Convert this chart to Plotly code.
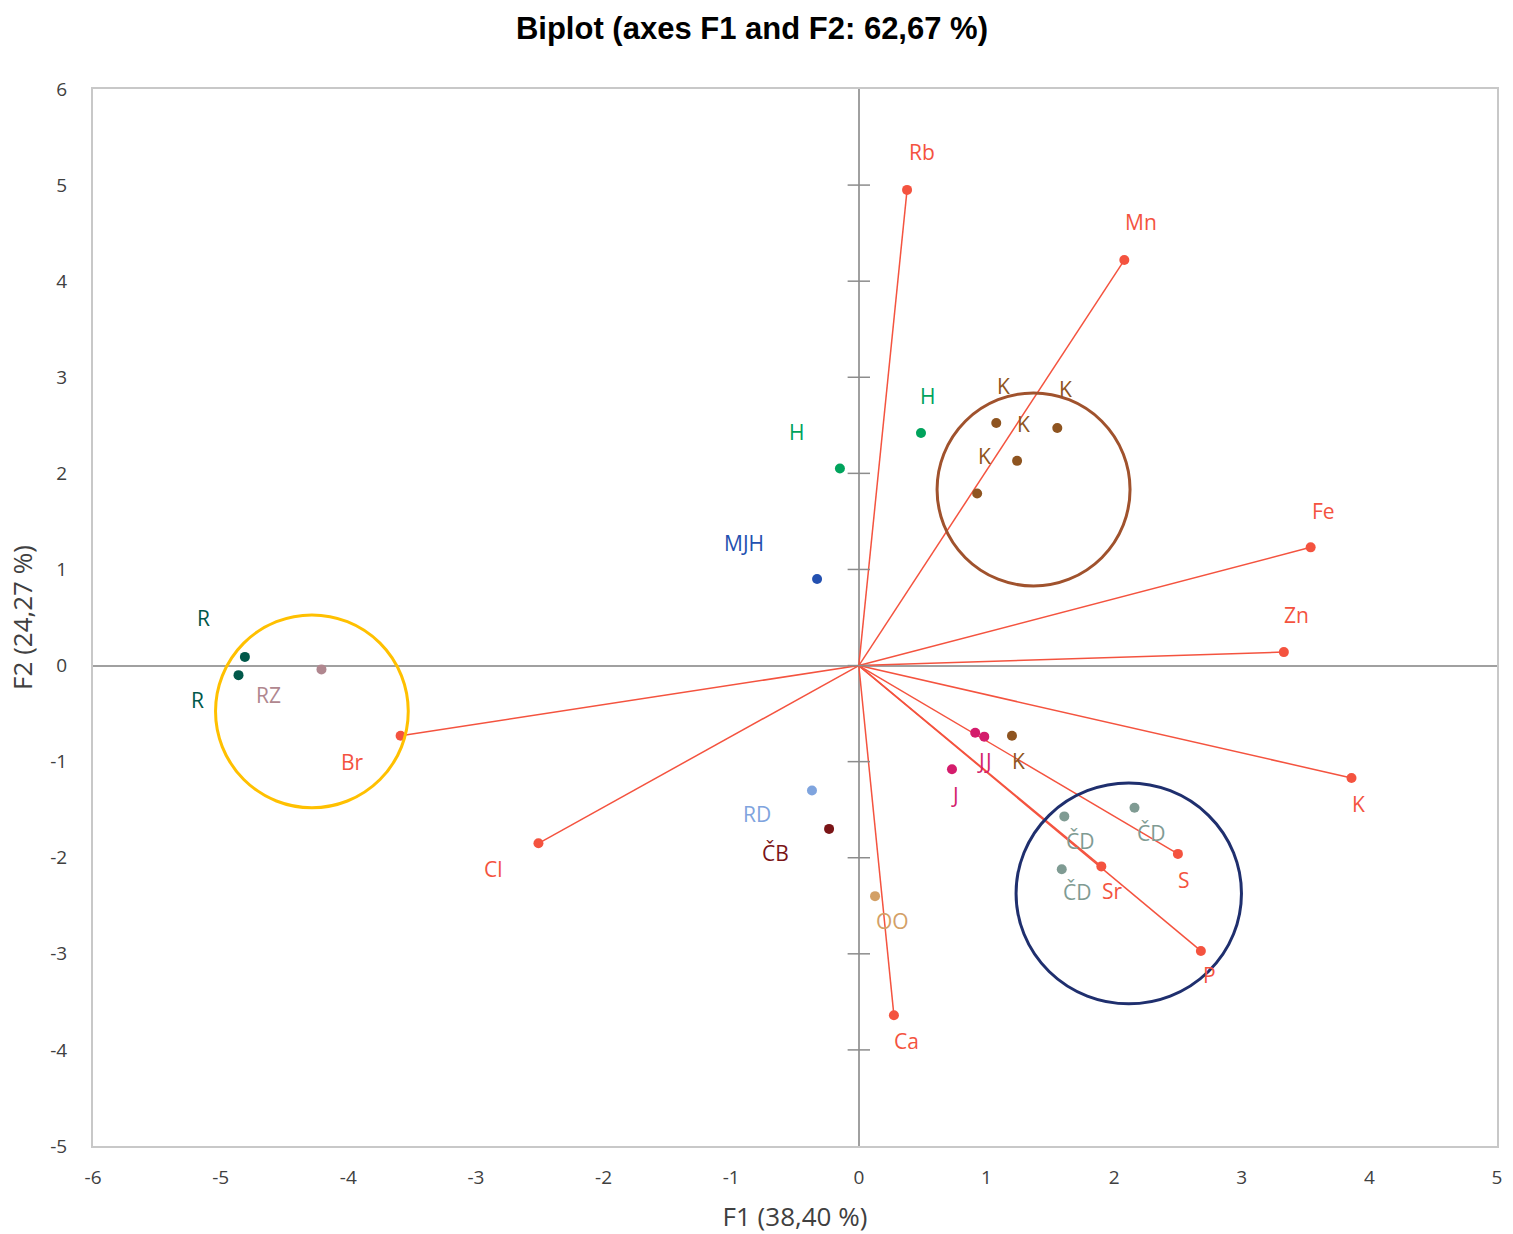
import plotly.graph_objects as go

# ---------------- data ----------------
var_names = ["Rb", "Mn", "Fe", "Zn", "K", "S", "Sr", "P", "Ca", "Cl", "Br"]
var_f1 = [0.378, 2.08, 3.54, 3.33, 3.86, 2.50, 1.90, 2.68, 0.275, -2.51, -3.59]
var_f2 = [4.95, 4.22, 1.23, 0.14, -1.17, -1.96, -2.09, -2.97, -3.64, -1.85, -0.73]

obs_names = ["H", "H", "MJH", "K", "K", "K", "K", "K", "J", "J", "J",
             "RD", "ČB", "OO", "ČD", "ČD", "ČD", "R", "R", "RZ"]
obs_f1 = [-0.148, 0.487, -0.327, 1.077, 1.555, 1.24, 0.927, 1.20, 0.912, 0.983, 0.73,
          -0.367, -0.233, 0.127, 1.61, 2.16, 1.59, -4.81, -4.86, -4.21]
obs_f2 = [2.05, 2.42, 0.90, 2.524, 2.472, 2.13, 1.79, -0.73, -0.70, -0.74, -1.08,
          -1.30, -1.70, -2.40, -1.57, -1.48, -2.12, 0.09, -0.10, -0.04]

# group ellipses (F1 range, F2 range)
circle_x0 = [-5.04, 0.613, 1.232]
circle_x1 = [-3.53, 2.125, 2.998]
circle_y0 = [-1.48, 0.828, -3.52]
circle_y1 = [0.527, 2.837, -1.222]

x_ticks = list(range(-6, 6))
y_ticks = list(range(-5, 7))
x_ticktext = [str(v) for v in x_ticks]
y_ticktext = [str(v) for v in y_ticks]

# ---------------- styles ----------------
VAR_COLOR = "#F4533F"
obs_colors = {
    "H": "#00A35C", "MJH": "#2350B0", "K": "#8E5420", "J": "#D41C6C",
    "RD": "#7FA4DE", "ČB": "#7A1416", "OO": "#D3A066", "ČD": "#7F9B93",
    "R": "#00584A", "RZ": "#B0878F",
}
circle_colors = ["#FFC000", "#A0522D", "#1F2F6E"]

# label offsets in px (dx, dy; dy positive = up)
var_offsets = [(15, 38), (17, 38), (13, 36), (13, 37), (7, -26), (6, -26), (11, -25),
               (9, -24), (13, -26), (-45, -26), (-48, -26)]
obs_offsets = [(-43, 37), (7, 37), (-73, 36), (7, 37), (8, 39), (6, 37), (7, 38), (7, -25),
               (6, -28), (4, -24), (3, -26), (-55, -24), (-54, -24), (17, -25),
               (16, -25), (16, -25), (15, -23), (-41, 39), (-41, -25), (-53, -26)]

LABEL_FONT = "Open Sans"
LABEL_SIZE = 21

fig = go.Figure()

# vectors
for name, x, y in zip(var_names, var_f1, var_f2):
    fig.add_trace(go.Scatter(x=[0, x], y=[0, y], mode="lines",
                             line=dict(color=VAR_COLOR, width=1.5),
                             hoverinfo="skip", showlegend=False))
fig.add_trace(go.Scatter(x=var_f1, y=var_f2, mode="markers", text=var_names,
                         marker=dict(color=VAR_COLOR, size=10),
                         showlegend=False))

# y zero-line tick marks
fig.add_trace(go.Scatter(x=[0] * len(y_ticks[1:-1]), y=y_ticks[1:-1], mode="markers",
                         marker=dict(symbol="line-ew", size=16,
                                     line=dict(color="#8C8C8C", width=1.5)),
                         hoverinfo="skip", showlegend=False))

# observations
fig.add_trace(go.Scatter(x=obs_f1, y=obs_f2, mode="markers", text=obs_names,
                         marker=dict(color=[obs_colors[n] for n in obs_names], size=10),
                         showlegend=False))

annotations = []
for name, x, y, (dx, dy) in zip(var_names, var_f1, var_f2, var_offsets):
    annotations.append(dict(x=x, y=y, text=name, showarrow=False, xshift=dx, yshift=dy,
                            font=dict(family=LABEL_FONT, size=LABEL_SIZE, color=VAR_COLOR)))
for name, x, y, (dx, dy) in zip(obs_names, obs_f1, obs_f2, obs_offsets):
    annotations.append(dict(x=x, y=y, text=name, showarrow=False, xshift=dx, yshift=dy,
                            font=dict(family=LABEL_FONT, size=LABEL_SIZE,
                                      color=obs_colors[name])))

shapes = []
for x0, x1, y0, y1, c in zip(circle_x0, circle_x1, circle_y0, circle_y1, circle_colors):
    shapes.append(dict(type="circle", xref="x", yref="y", x0=x0, x1=x1, y0=y0, y1=y1,
                       line=dict(color=c, width=3), layer="above"))

fig.update_layout(
    width=1513, height=1234,
    margin=dict(l=93, r=16, t=89, b=88),
    paper_bgcolor="white", plot_bgcolor="white",
    title=dict(text="<b>Biplot (axes F1 and F2: 62,67 %)</b>", x=0.497, xanchor="center",
               y=0.977, yanchor="middle",
               font=dict(family="Liberation Sans, Arial", size=31, color="#000000")),
    annotations=annotations, shapes=shapes,
    xaxis=dict(range=[-6, 5], tickvals=x_ticks, ticktext=x_ticktext, showgrid=False,
               automargin=False,
               zeroline=True, zerolinecolor="#A0A0A0", zerolinewidth=1.5,
               showline=True, mirror=True, linecolor="#C8C8C8", linewidth=2,
               ticks="", ticklabelstandoff=13,
               tickfont=dict(family=LABEL_FONT, size=19, color="#404040"),
               title=dict(text="F1 (38,40 %)", standoff=21,
                          font=dict(family=LABEL_FONT, size=26, color="#404040"))),
    yaxis=dict(range=[-5, 6], tickvals=y_ticks, ticktext=y_ticktext, showgrid=False,
               automargin=False,
               zeroline=True, zerolinecolor="#A0A0A0", zerolinewidth=1.5,
               showline=True, mirror=True, linecolor="#C8C8C8", linewidth=2,
               ticks="", ticklabelstandoff=20,
               tickfont=dict(family=LABEL_FONT, size=19, color="#404040"),
               title=dict(text="F2 (24,27 %)", standoff=10,
                          font=dict(family=LABEL_FONT, size=26, color="#404040"))),
)

fig.write_html("out.html", config={"displayModeBar": False},
               post_script="document.body.style.margin='0';")
